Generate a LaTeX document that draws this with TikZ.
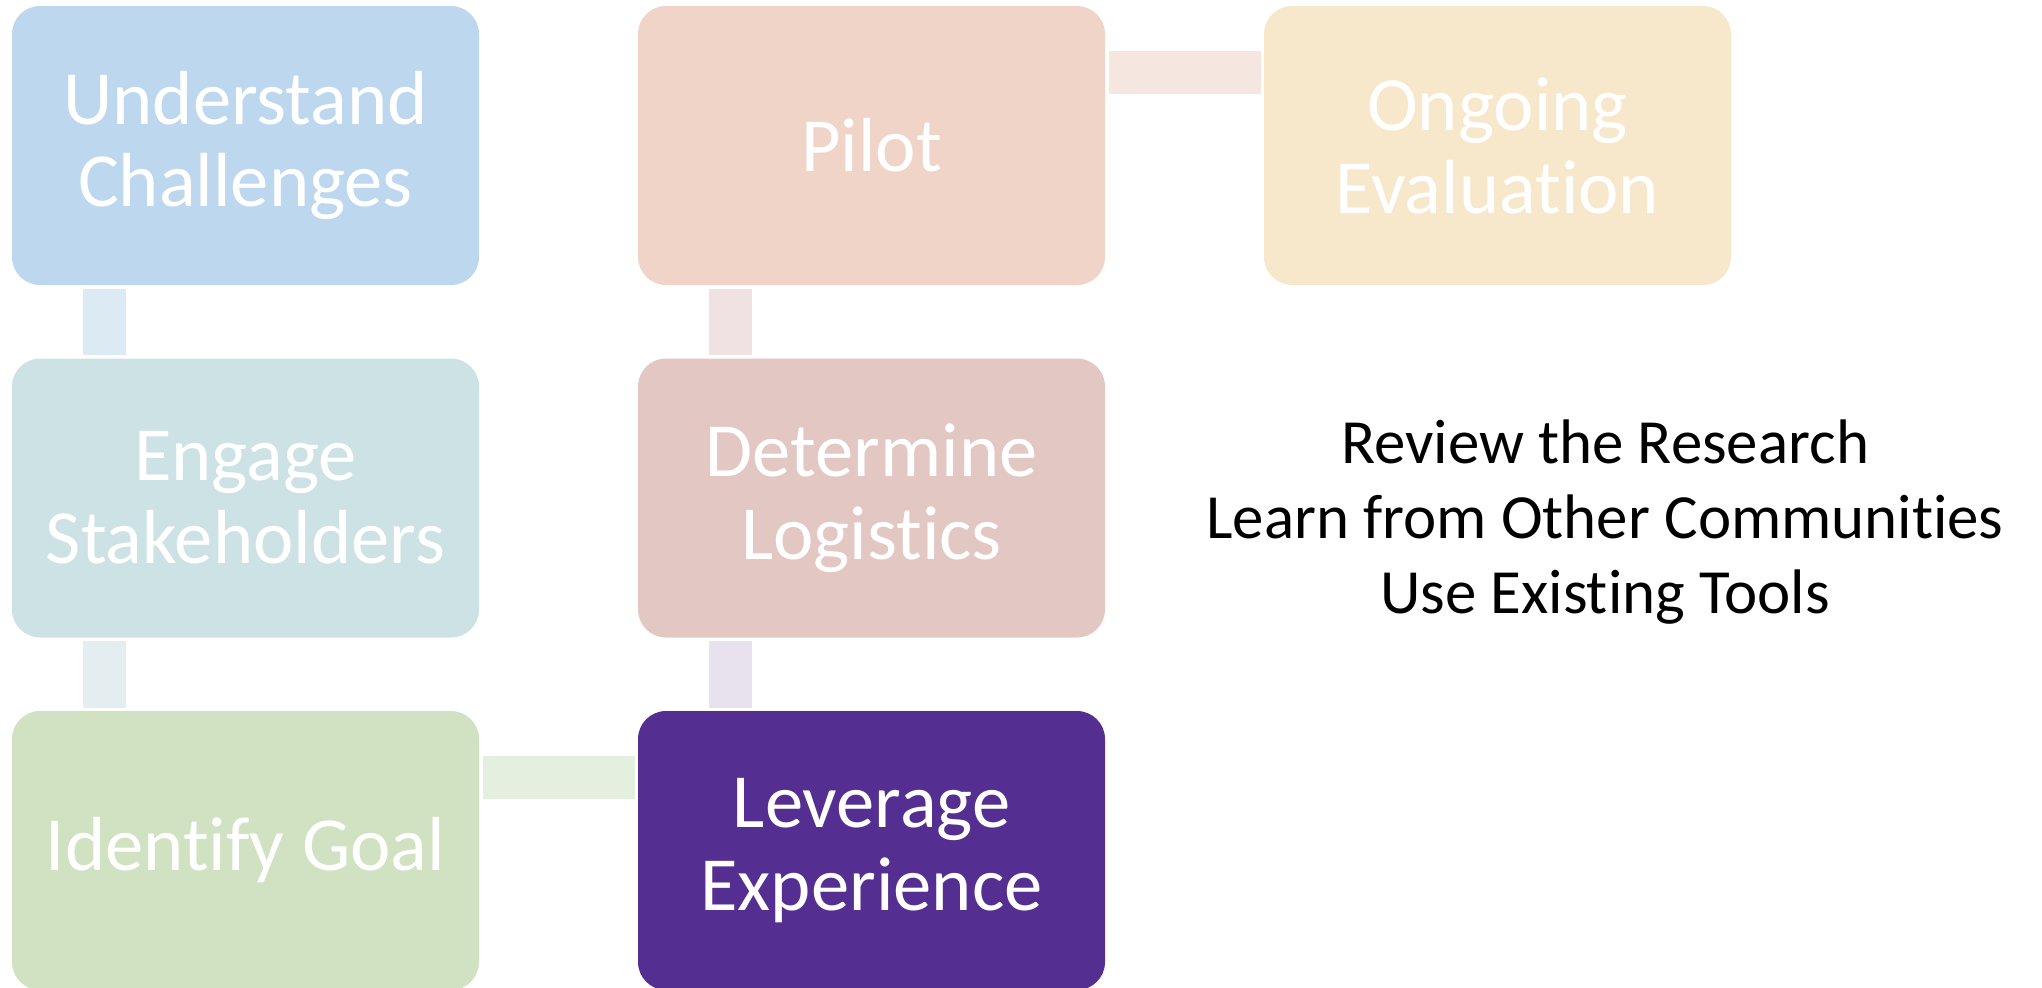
\documentclass[tikz,border=0pt]{standalone}
\usepackage{fontspec}
\setmainfont{Carlito}[Ligatures=NoCommon]
\usepackage{tikz}
\usetikzlibrary{positioning}
\definecolor{undfill}{RGB}{189,215,238}
\definecolor{engfill}{RGB}{205,226,228}
\definecolor{goalfill}{RGB}{208,226,193}
\definecolor{levfill}{RGB}{84,46,144}
\definecolor{logfill}{RGB}{226,199,195}
\definecolor{pilfill}{RGB}{240,212,200}
\definecolor{ongfill}{RGB}{247,232,203}
\definecolor{linkA}{RGB}{220,234,244}
\definecolor{linkB}{RGB}{228,238,240}
\definecolor{linkC}{RGB}{229,239,223}
\definecolor{linkD}{RGB}{232,226,238}
\definecolor{linkE}{RGB}{240,226,226}
\definecolor{linkF}{RGB}{246,230,224}

\begin{document}
\begin{tikzpicture}[node distance=3.525cm and 6.26cm,on grid,
      % every node/.style={draw},
      stage/.style={rectangle,rounded corners=0.28cm,minimum width=4.67cm,minimum height=2.79cm,
        inner sep=0pt,text=white,align=center,font=\fontsize{21.8}{23.6}\selectfont},
      link/.style={line width=0.43cm,line cap=butt,shorten <=0.03cm,shorten >=0.025cm}]
      \useasboundingbox (0,0) rectangle (20.42,-9.87);
      \node[stage, fill=undfill]   (understand) at (2.455,-1.455) {Understand\\Challenges};
      \node[stage, fill=engfill]   (engage) [below=of understand] {Engage\\Stakeholders};
      \node[stage, fill=goalfill]  (goal) [below=of engage] {Identify Goal};
      \node[stage, fill=levfill]   (leverage) [right=of goal] {Leverage\\Experience};
      \node[stage, fill=logfill]   (logistics) [above=of leverage] {Determine\\Logistics};
      \node[stage, fill=pilfill]   (pilot) [above=of logistics] {Pilot};
      \node[stage, fill=ongfill]   (ongoing) [right=of pilot] {Ongoing\\Evaluation};
      \draw[link, linkA] ([xshift=0.935cm]understand.south west) -- ([xshift=0.935cm]engage.north west);
      \draw[link, linkB] ([xshift=0.935cm]engage.south west) -- ([xshift=0.935cm]goal.north west);
      \draw[link, linkC] ([yshift=-0.675cm]goal.north east) -- ([yshift=-0.675cm]leverage.north west);
      \draw[link, linkD] ([xshift=0.935cm]logistics.south west) -- ([xshift=0.935cm]leverage.north west);
      \draw[link, linkE] ([xshift=0.935cm]pilot.south west) -- ([xshift=0.935cm]logistics.north west);
      \draw[link, linkF] ([yshift=-0.675cm]pilot.north east) -- ([yshift=-0.675cm]ongoing.north west);
      \node[align=center, inner sep=0pt, font=\fontsize{17.9}{21.3}\selectfont] (sources) at (16.05,-5.22)
        {Review the Research\\Learn from Other Communities\\Use Existing Tools};
    \end{tikzpicture}
\end{document}
